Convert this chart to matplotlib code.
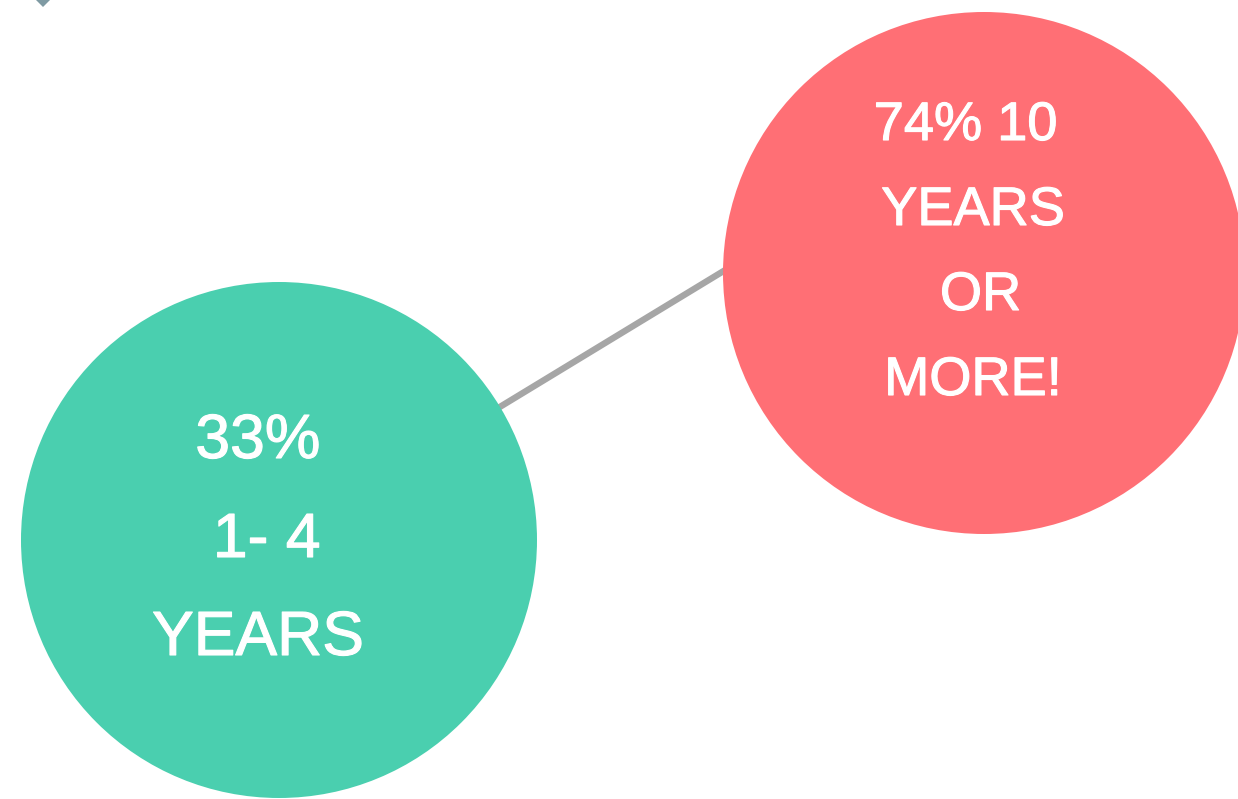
import matplotlib.pyplot as plt
import matplotlib.patheffects as pe
from matplotlib.patches import Circle, RegularPolygon

# Two bubbles joined by a connector, each carrying its share label
shares = ["33%", "74%"]
green_lines = ["33%", " 1- 4", "YEARS"]
red_lines = ["74% 10 ", "YEARS", " OR", "MORE!"]

GREEN = "#4acfaf"
RED = "#ff6f75"
GREY = "#a6a6a6"

fig = plt.figure(figsize=(12.38, 7.99), dpi=100)
ax = fig.add_axes([0, 0, 1, 1])
ax.set_xlim(0, 1238)
ax.set_ylim(799, 0)
ax.set_aspect("equal")
ax.axis("off")

# connector drawn first so the bubbles sit on top of its ends
ax.plot([480, 745], [419, 258], color=GREY, linewidth=4.6, solid_capstyle="butt", zorder=1)

ax.add_patch(Circle((279, 540), 258, facecolor=GREEN, edgecolor="none", zorder=2))
ax.add_patch(Circle((984, 273), 261, facecolor=RED, edgecolor="none", zorder=2))

# small bullet peeking in at the top-left corner
ax.add_patch(RegularPolygon((43, -4), 4, radius=11, orientation=0,
                            facecolor="#7f9aa3", edgecolor="none", zorder=3))

font = "Liberation Sans"
heavier = [pe.withStroke(linewidth=0.8, foreground="white")]
for text, y in zip(green_lines, [458, 557, 655]):
    ax.text(258, y, text, ha="center", va="baseline", color="white",
            fontsize=45, family=font, zorder=4, path_effects=heavier)

for text, y in zip(red_lines, [140, 225, 310, 395]):
    ax.text(973, y, text, ha="center", va="baseline", color="white",
            fontsize=39, family=font, zorder=4, path_effects=heavier)

fig.savefig("out.png", dpi=100)
